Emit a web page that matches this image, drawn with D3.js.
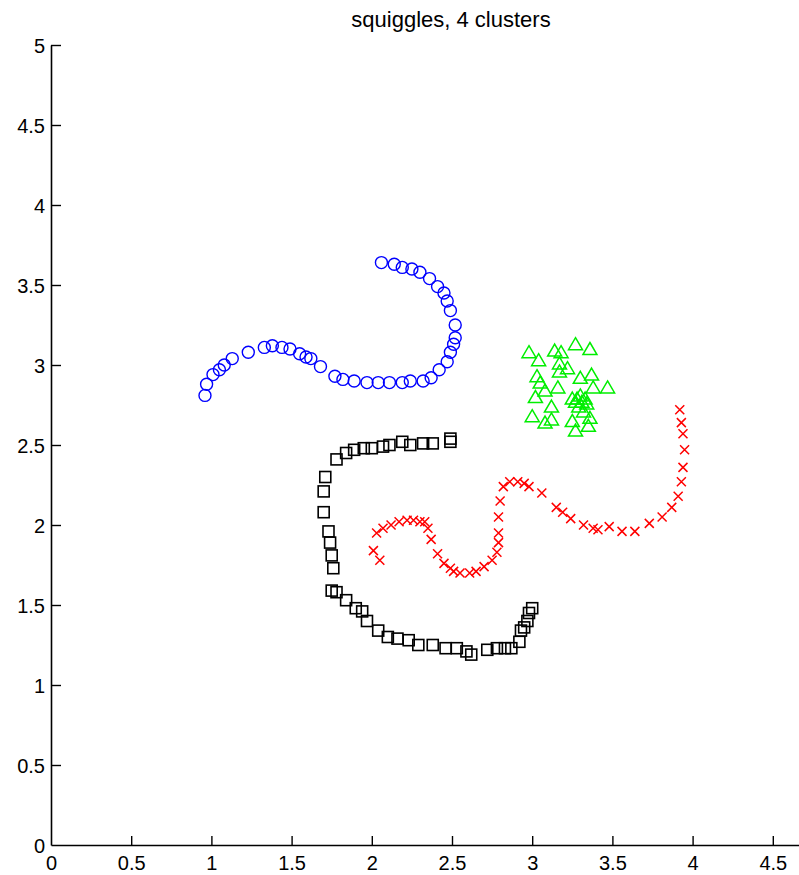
<!DOCTYPE html>
<html>
<head>
<meta charset="utf-8">
<script src="https://cdn.jsdelivr.net/npm/d3@7"></script>
<style>
  html, body { margin: 0; padding: 0; background: #fff; }
  svg { display: block; }
  text { font-family: "Liberation Sans", Arial, Helvetica, sans-serif; fill: #000; }
</style>
</head>
<body>
<svg id="chart" width="799" height="875"></svg>
<script>
// Cluster 1: blue circles
const blueX = [0.96, 0.97, 1.01, 1.05, 1.08, 1.13, 1.23, 1.33, 1.38, 1.44, 1.49, 1.55, 1.59, 1.62, 1.68, 1.77, 1.82, 1.89, 1.97, 2.04, 2.11, 2.19, 2.24, 2.32, 2.37, 2.42, 2.47, 2.49, 2.51, 2.52, 2.52, 2.49, 2.47, 2.45, 2.41, 2.36, 2.30, 2.25, 2.19, 2.14, 2.06];
const blueY = [2.81, 2.88, 2.94, 2.97, 3.00, 3.04, 3.08, 3.11, 3.12, 3.11, 3.10, 3.07, 3.05, 3.04, 2.99, 2.93, 2.91, 2.90, 2.89, 2.89, 2.89, 2.89, 2.90, 2.90, 2.92, 2.97, 3.02, 3.08, 3.13, 3.17, 3.25, 3.34, 3.40, 3.45, 3.49, 3.54, 3.58, 3.60, 3.61, 3.63, 3.64];

// Cluster 2: green triangles
const greenX = [2.98, 3.04, 3.14, 3.18, 3.27, 3.36, 3.17, 3.05, 3.08, 3.02, 3.16, 3.30, 3.37, 3.47, 3.38, 3.28, 3.31, 3.34, 3.12, 3.00, 3.12, 3.08, 3.25, 3.36, 3.27, 3.35, 3.17, 3.22, 3.03, 3.32, 3.25, 3.30, 3.33, 3.29, 3.27];
const greenY = [3.08, 3.03, 3.09, 3.08, 3.13, 3.10, 3.01, 2.89, 2.84, 2.80, 2.86, 2.92, 2.94, 2.86, 2.86, 2.79, 2.77, 2.76, 2.74, 2.68, 2.66, 2.64, 2.65, 2.67, 2.59, 2.62, 2.96, 2.98, 2.93, 2.71, 2.79, 2.81, 2.79, 2.74, 2.77];

// Cluster 3: black squares
const blackX = [2.49, 2.49, 2.38, 2.32, 2.24, 2.19, 2.11, 2.07, 2.00, 1.95, 1.89, 1.84, 1.78, 1.71, 1.70, 1.70, 1.73, 1.74, 1.75, 1.76, 1.75, 1.78, 1.84, 1.90, 1.94, 1.97, 2.04, 2.10, 2.16, 2.23, 2.29, 2.38, 2.46, 2.53, 2.59, 2.62, 2.72, 2.78, 2.83, 2.87, 2.92, 2.93, 2.95, 2.97, 2.98, 3.00];
const blackY = [2.52, 2.54, 2.51, 2.51, 2.50, 2.52, 2.50, 2.49, 2.48, 2.48, 2.47, 2.45, 2.41, 2.30, 2.21, 2.08, 1.96, 1.89, 1.81, 1.73, 1.59, 1.58, 1.53, 1.48, 1.46, 1.40, 1.34, 1.30, 1.29, 1.28, 1.25, 1.25, 1.23, 1.23, 1.21, 1.19, 1.22, 1.23, 1.23, 1.23, 1.27, 1.34, 1.36, 1.40, 1.45, 1.48];

// Cluster 4: red crosses
const redX = [2.01, 2.05, 2.03, 2.07, 2.12, 2.17, 2.22, 2.26, 2.30, 2.33, 2.35, 2.37, 2.41, 2.45, 2.49, 2.51, 2.55, 2.61, 2.65, 2.70, 2.75, 2.78, 2.79, 2.79, 2.79, 2.80, 2.82, 2.86, 2.91, 2.95, 2.98, 3.06, 3.15, 3.19, 3.24, 3.32, 3.38, 3.41, 3.48, 3.56, 3.64, 3.73, 3.81, 3.87, 3.91, 3.93, 3.94, 3.95, 3.94, 3.93, 3.92];
const redY = [1.84, 1.78, 1.95, 1.98, 2.00, 2.02, 2.03, 2.03, 2.02, 2.02, 1.98, 1.91, 1.82, 1.76, 1.73, 1.71, 1.70, 1.70, 1.71, 1.74, 1.78, 1.83, 1.89, 1.95, 2.05, 2.15, 2.24, 2.27, 2.27, 2.26, 2.24, 2.20, 2.11, 2.08, 2.04, 2.00, 1.98, 1.97, 1.99, 1.96, 1.96, 2.01, 2.05, 2.11, 2.18, 2.27, 2.36, 2.47, 2.57, 2.64, 2.72];

// Axis ticks (the x axis runs on past the right edge of the page)
const xTicks = [0, 0.5, 1, 1.5, 2, 2.5, 3, 3.5, 4, 4.5];
const yTicks = [0, 0.5, 1, 1.5, 2, 2.5, 3, 3.5, 4, 4.5, 5];
const titleText = "squiggles, 4 clusters";

const svg = d3.select("#chart");

const x = d3.scaleLinear().domain([0, 5]).range([51, 853]);
const y = d3.scaleLinear().domain([0, 5]).range([845, 45]);

// Title
svg.append("text")
  .attr("x", 451)
  .attr("y", 27)
  .attr("text-anchor", "middle")
  .style("font-size", "22px")
  .text(titleText);

// Axes (ticks point inward, no box)
const fmt = d => String(d);
const xAxis = d3.axisBottom(x).tickValues(xTicks).tickFormat(fmt).tickSizeInner(-9).tickSizeOuter(0).tickPadding(11);
const yAxis = d3.axisLeft(y).tickValues(yTicks).tickFormat(fmt).tickSizeInner(-10).tickSizeOuter(0).tickPadding(6);

const gx = svg.append("g").attr("transform", "translate(0,845)").call(xAxis);
const gy = svg.append("g").attr("transform", "translate(51,0)").call(yAxis);

[gx, gy].forEach(g => {
  g.select(".domain").attr("stroke", "#000").attr("stroke-width", 1.6);
  g.selectAll(".tick line").attr("stroke", "#000").attr("stroke-width", 1.4);
  g.selectAll(".tick text")
    .style("font-size", "20px")
    .style("font-family", "'Liberation Sans', Arial, Helvetica, sans-serif")
    .attr("fill", "#000");
});
gx.selectAll(".tick text").attr("dy", "0.71em");
gy.selectAll(".tick text").attr("dy", "0.38em");
// The zero ticks coincide with the other axis
gx.selectAll(".tick line").filter(d => d === 0).remove();
gy.selectAll(".tick line").filter(d => d === 0).remove();

const pts = (xs, ys) => xs.map((v, i) => ({ x: v, y: ys[i] }));

// Blue circles
svg.append("g").selectAll("circle")
  .data(pts(blueX, blueY)).join("circle")
  .attr("cx", d => x(d.x)).attr("cy", d => y(d.y))
  .attr("r", 6)
  .attr("fill", "none")
  .attr("stroke", "#0000ff")
  .attr("stroke-width", 1.4);

// Green triangles
svg.append("g").selectAll("path")
  .data(pts(greenX, greenY)).join("path")
  .attr("transform", d => `translate(${x(d.x)},${y(d.y)})`)
  .attr("d", "M0,-6.5 L7,5.5 L-7,5.5 Z")
  .attr("fill", "none")
  .attr("stroke", "#00ee00")
  .attr("stroke-width", 1.5);

// Black squares
svg.append("g").selectAll("rect")
  .data(pts(blackX, blackY)).join("rect")
  .attr("x", d => x(d.x) - 5.5).attr("y", d => y(d.y) - 5.5)
  .attr("width", 11).attr("height", 11)
  .attr("fill", "none")
  .attr("stroke", "#000")
  .attr("stroke-width", 1.6);

// Red crosses
svg.append("g").selectAll("path")
  .data(pts(redX, redY)).join("path")
  .attr("transform", d => `translate(${x(d.x)},${y(d.y)})`)
  .attr("d", "M-4.5,-4.5 L4.5,4.5 M-4.5,4.5 L4.5,-4.5")
  .attr("fill", "none")
  .attr("stroke", "#ff0000")
  .attr("stroke-width", 1.5);
</script>
</body>
</html>
